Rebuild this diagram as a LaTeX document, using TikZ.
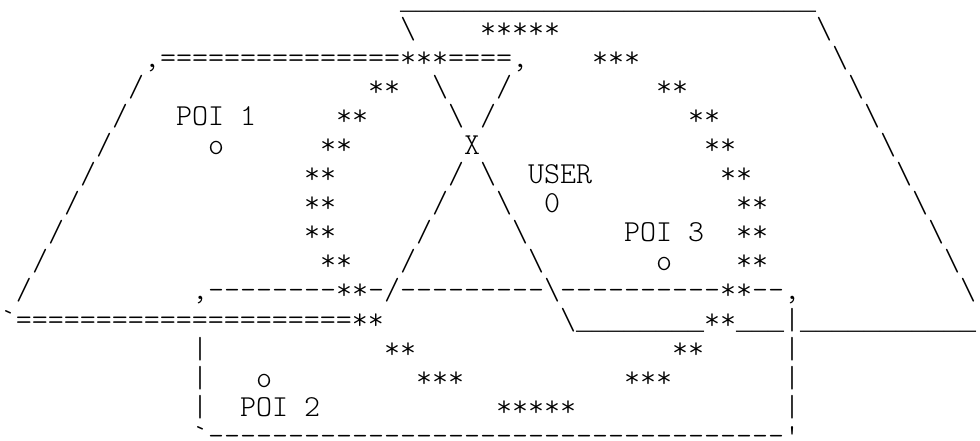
\documentclass[tikz,border=0pt]{standalone}
\usepackage{fontspec}
\setmonofont{lmmonolt10-regular.otf}
\newfontfamily\railfont{Liberation Mono}
% underscores that join up into a solid line
\newcommand\underrun[1]{{\railfont\fontsize{20pt}{22pt}\selectfont#1}}
\begin{document}
\begin{tikzpicture}[x=12pt, y=-21.75pt]
    % Define styles
    \tikzset{
        glyphs/.style={font=\ttfamily\fontsize{22.857pt}{22pt}\selectfont,
            anchor=base west, inner sep=0pt, outer sep=0pt},
        stars/.style={glyphs},
        label/.style={glyphs}
    }

    % Page size
    \useasboundingbox (0pt,0pt) rectangle (735pt,-330.75pt);

    \begin{scope}[yshift=-7.5pt]
    % Upper right area
    \node[glyphs] (roof) at (25,0) {\underrun{\_\_\_\_\_\_\_\_\_\_\_\_\_\_\_\_\_\_\_\_\_\_\_\_\_\_}};
    \node[glyphs] (roofleft) at (25,1) {\textbackslash};
    \foreach \r in {1,...,10}
        \node[glyphs] (east\r) at (50+\r,\r) {\textbackslash};
    \node[glyphs] (floor) at (35,11) {\textbackslash\underrun{\_\_\_\_\_\_\_\_}**\underrun{\_\_\_}|\underrun{\_\_\_\_\_\_\_\_\_\_\_}};

    % Left area
    \node[glyphs] (lefttop) at (9,2) {,===============***====,};
    \foreach \r in {3,...,10}
        \node[glyphs] (west\r) at (11-\r,\r) {/};
    \node[glyphs] (leftbottom) at (0,11) {`=====================**};

    % Crossing road
    \foreach \r in {3,4,6,7,8,9} {
        \node[glyphs] (cross\r) at (24+\r,\r) {\textbackslash};
        \node[glyphs] (slash\r) at (34-\r,\r) {/};
    }
    \node[label] (cross) at (29,5) {X};

    % Lower box
    \node[glyphs] (boxtop) at (12,10) {,--------**-/---------\textbackslash----------**--,};
    \foreach \r in {12,13,14} {
        \node[glyphs] (boxleft\r) at (12,\r) {|};
        \node[glyphs] (boxright\r) at (49,\r) {|};
    }
    \node[glyphs] (boxbottom) at (12,15) {`------------------------------------'};

    % Circle of stars
    \foreach \r/\c/\s in {1/30/*****, 2/37/***, 3/23/**, 3/41/**, 4/21/**, 4/43/**,
            5/20/**, 5/44/**, 6/19/**, 6/45/**, 7/19/**, 7/46/**, 8/19/**, 8/46/**,
            9/20/**, 9/46/**, 12/24/**, 12/42/**, 13/26/***, 13/39/***, 14/31/*****}
        \node[stars] (star-\r-\c) at (\c,\r) {\s};

    % Points of interest
    \node[label] (poi1) at (11,4) {POI 1};
    \node[label] (poi1mark) at (13,5) {o};
    \node[label] (user) at (33,6) {USER};
    \node[label] (usermark) at (34,7) {0};
    \node[label] (poi3) at (39,8) {POI 3};
    \node[label] (poi3mark) at (41,9) {o};
    \node[label] (poi2mark) at (16,13) {o};
    \node[label] (poi2) at (15,14) {POI 2};
    \end{scope}
\end{tikzpicture}
\end{document}
